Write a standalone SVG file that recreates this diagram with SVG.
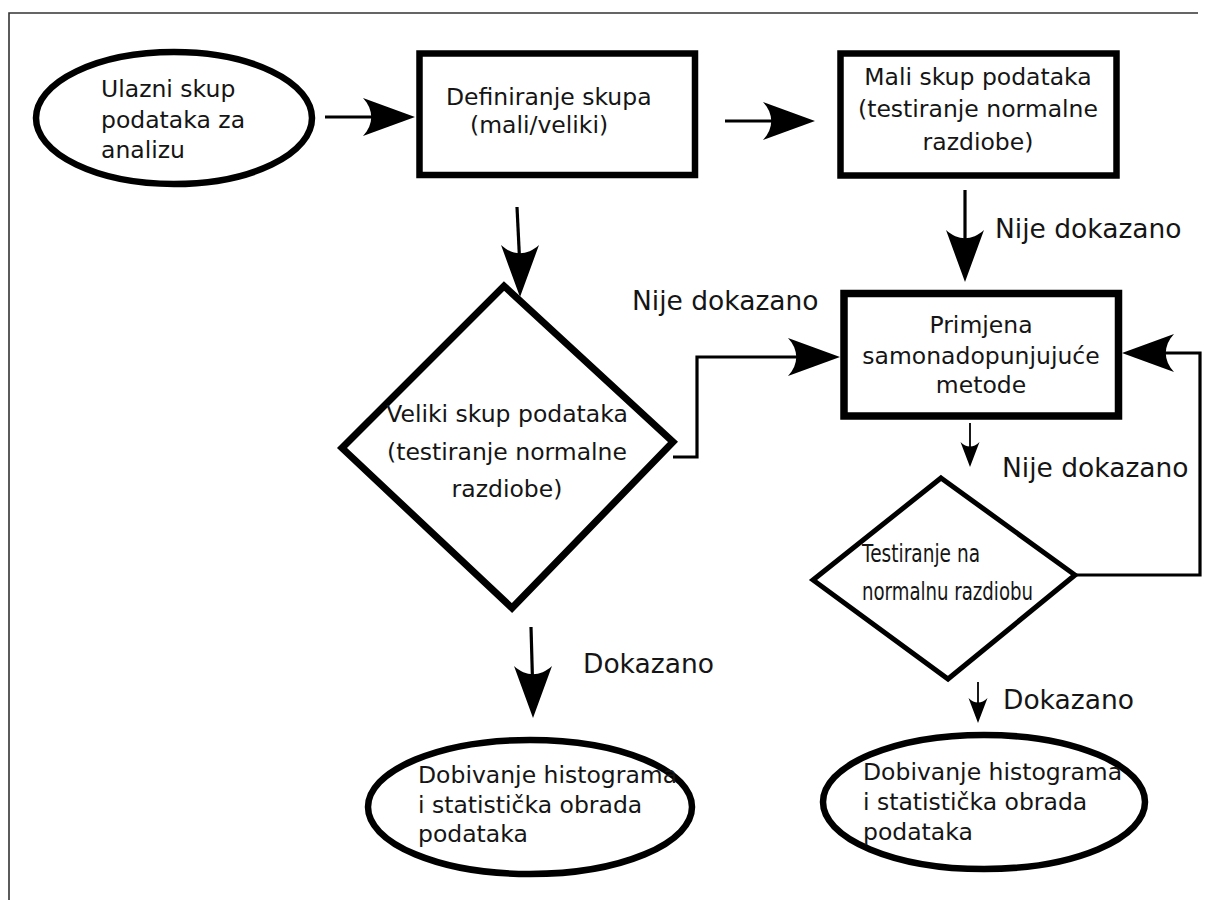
<svg xmlns="http://www.w3.org/2000/svg" xmlns:xlink="http://www.w3.org/1999/xlink" width="1205" height="900" viewBox="0 0 1205 900">
<style>
.node{fill:#fff;stroke:#000;stroke-width:6.5}
.thin{fill:#fff;stroke:#000;stroke-width:5}
.t{font-family:"DejaVu Sans","Liberation Sans",sans-serif;font-size:23.5px;fill:#151515}
.lbl{font-family:"DejaVu Sans","Liberation Sans",sans-serif;font-size:26.5px;fill:#151515}
.c{fill:none;stroke:#000;stroke-width:3.2}
.cs{fill:none;stroke:#000;stroke-width:1.8}
.frame{fill:none;stroke:#333;stroke-width:1.6}
</style>
<defs>
<path id="ah" d="M0,0 L-52,-19 C-41,-7 -41,7 -52,19 Z" fill="#000"/>
<path id="ahs" d="M0,0 L-25,-9.5 C-19,-3.5 -19,3.5 -25,9.5 Z" fill="#000"/>
</defs>
<path class="frame" d="M9,900 L9,13 L1198,13"/>
<g id="n-ulazni">
<ellipse class="node" cx="174" cy="118" rx="138" ry="66"/>
<text class="t" x="101" y="97">Ulazni skup</text>
<text class="t" x="101" y="128">podataka za</text>
<text class="t" x="101" y="158">analizu</text>
</g>
<g id="n-definiranje">
<rect class="node" x="419.5" y="53.5" width="275.5" height="121.5"/>
<text class="t" x="446" y="105">Definiranje skupa</text>
<text class="t" x="470" y="133">(mali/veliki)</text>
</g>
<g id="n-mali">
<rect class="node" x="840.5" y="53.5" width="276" height="122"/>
<text class="t" x="978" y="85" text-anchor="middle">Mali skup podataka</text>
<text class="t" x="978" y="117" text-anchor="middle">(testiranje normalne</text>
<text class="t" x="978" y="150" text-anchor="middle">razdiobe)</text>
</g>
<g id="n-primjena">
<rect class="node" x="844" y="293.5" width="274.5" height="122.5" style="stroke-width:7.5"/>
<text class="t" x="981" y="333" text-anchor="middle">Primjena</text>
<text class="t" x="981" y="364" text-anchor="middle">samonadopunjujuće</text>
<text class="t" x="981" y="393" text-anchor="middle">metode</text>
</g>
<g id="n-veliki">
<path class="node" d="M504,286 L673,442 L512,608 L342,448 Z" style="stroke-width:7"/>
<text class="t" x="507" y="422" text-anchor="middle">Veliki skup podataka</text>
<text class="t" x="507" y="460" text-anchor="middle">(testiranje normalne</text>
<text class="t" x="507" y="497" text-anchor="middle">razdiobe)</text>
</g>
<g id="n-testiranje">
<path class="thin" d="M941,478 L1075,575 L948,679 L813,580 Z"/>
<text class="t" x="862" y="562" textLength="118" lengthAdjust="spacingAndGlyphs" style="font-size:24px">Testiranje na</text>
<text class="t" x="862" y="600" textLength="171" lengthAdjust="spacingAndGlyphs" style="font-size:24px">normalnu razdiobu</text>
</g>
<g id="n-dobivanje1">
<ellipse class="node" cx="530" cy="807" rx="162" ry="67"/>
<text class="t" x="418" y="783">Dobivanje histograma</text>
<text class="t" x="418" y="813">i statistička obrada</text>
<text class="t" x="418" y="842">podataka</text>
</g>
<g id="n-dobivanje2">
<ellipse class="node" cx="984" cy="802" rx="161" ry="67"/>
<text class="t" x="863" y="780">Dobivanje histograma</text>
<text class="t" x="863" y="810">i statistička obrada</text>
<text class="t" x="863" y="840">podataka</text>
</g>
<g id="connectors">
<line class="c" x1="325" y1="117" x2="372" y2="117"/>
<use xlink:href="#ah" transform="translate(415,117)"/>
<line class="c" x1="725" y1="121" x2="772" y2="121"/>
<use xlink:href="#ah" transform="translate(815,121)"/>
<line class="c" x1="965" y1="190" x2="965" y2="240"/>
<use xlink:href="#ah" transform="translate(965,282) rotate(90)"/>
<text class="lbl" x="995" y="238">Nije dokazano</text>
<line class="c" x1="517" y1="207" x2="519.5" y2="258"/>
<use xlink:href="#ah" transform="translate(520,297) rotate(90)"/>
<polyline class="c" points="673,457 697,457 697,357 800,357"/>
<use xlink:href="#ah" transform="translate(840,357)"/>
<text class="lbl" x="632" y="310">Nije dokazano</text>
<line class="cs" x1="970" y1="423" x2="970" y2="450"/>
<use xlink:href="#ahs" transform="translate(970,467) rotate(90)"/>
<text class="lbl" x="1002" y="477">Nije dokazano</text>
<polyline class="c" points="1075,575 1200,575 1200,353 1162,353"/>
<use xlink:href="#ah" transform="translate(1122,353) rotate(180)"/>
<line class="c" x1="531" y1="627" x2="532.5" y2="680"/>
<use xlink:href="#ah" transform="translate(533,718) rotate(90)"/>
<text class="lbl" x="583" y="673">Dokazano</text>
<line class="cs" x1="978" y1="682" x2="978" y2="708"/>
<use xlink:href="#ahs" transform="translate(978,723) rotate(90)"/>
<text class="lbl" x="1003" y="709">Dokazano</text>
</g>
</svg>
